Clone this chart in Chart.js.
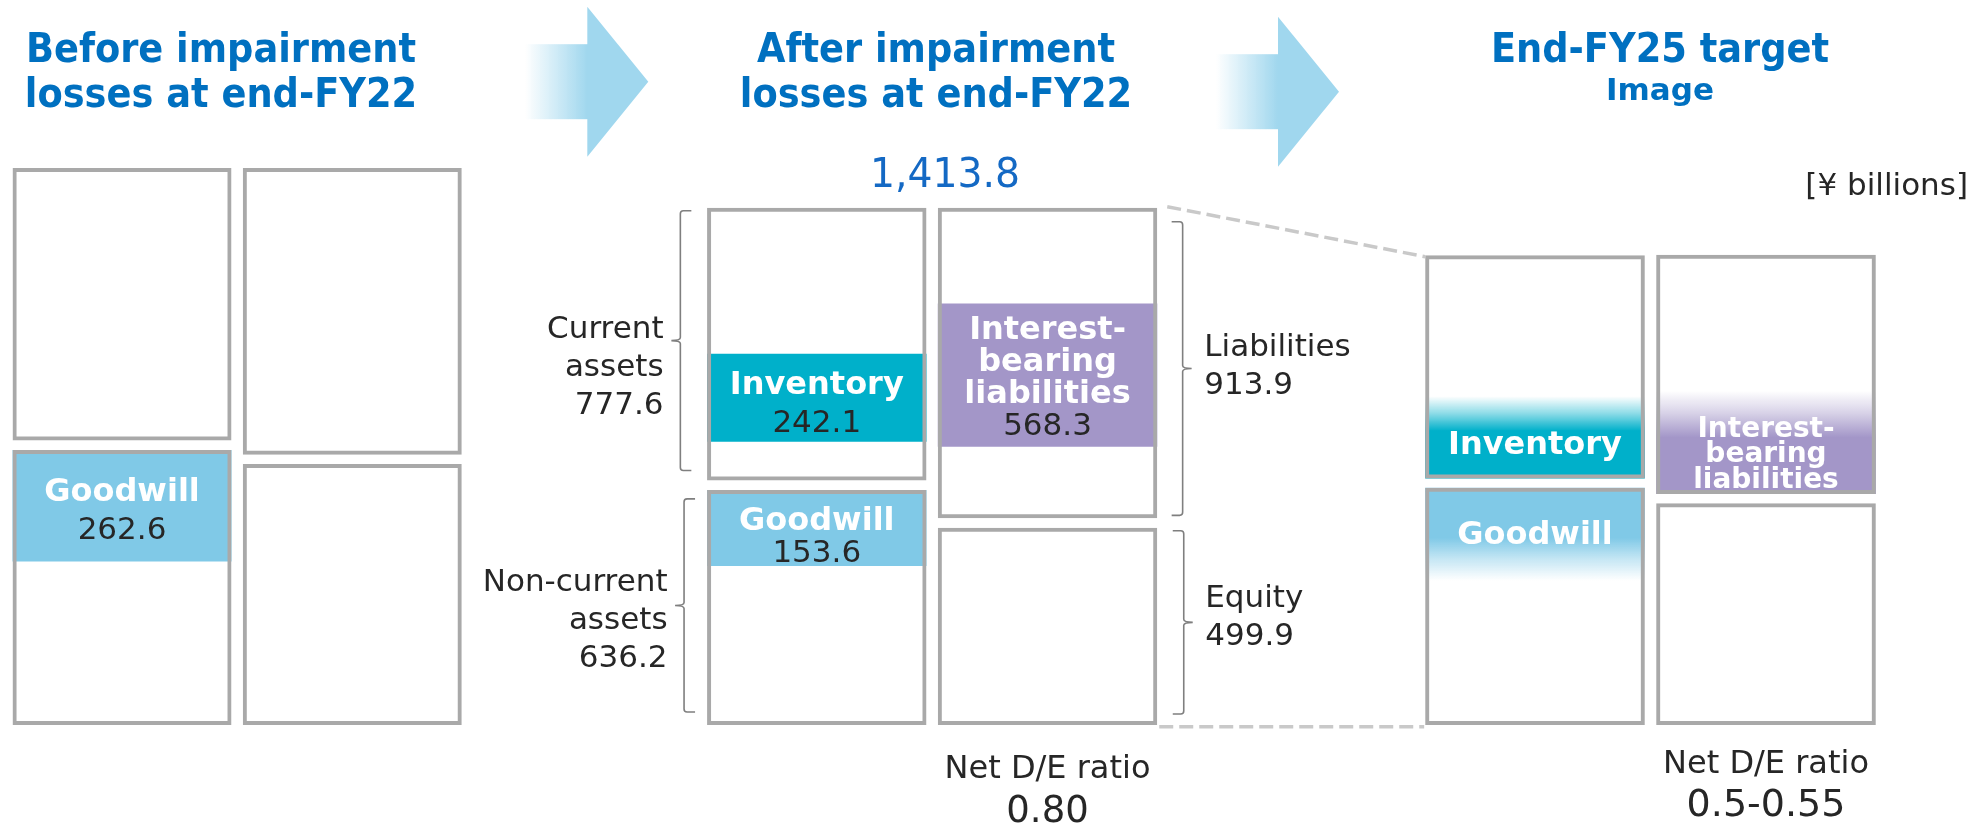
<!DOCTYPE html>
<html>
<head>
<meta charset="utf-8">
<script src="https://cdn.jsdelivr.net/npm/chart.js@4.4.1/dist/chart.umd.min.js"></script>
<style>
    html, body { margin: 0; padding: 0; background: #ffffff; }
    #wrap { position: relative; width: 1972px; height: 825px; }
    #wrap canvas { position: absolute; left: 0; top: 0; }
</style>
</head>
<body>
<div id="wrap">
    <canvas id="beforeChart" width="1972" height="825"></canvas>
    <canvas id="afterChart" width="1972" height="825"></canvas>
    <canvas id="targetChart" width="1972" height="825"></canvas>
</div>
<script>
// The source is a schematic balance sheet, not drawn to scale, so the
// segment heights below are read off the picture (roughly ¥ billions).
const columns = ['Assets', 'Liabilities and equity'];
const stageTitles = [
    ['Before impairment', 'losses at end-FY22'],
    ['After impairment', 'losses at end-FY22'],
    ['End-FY25 target', 'Image'],
];
const nonCurrentAssets = [764, 653, 659];
const currentAssets = [757, 758, 620];
const equity = [725, 548, 616];
const liabilities = [796, 863, 664];
const goodwillBand = [310, 211, 258];
const inventoryBand = [null, 244, 228];
const currentBelowInventory = [null, 108, 0];
const debtBand = [null, 398, 286];
const liabilitiesBelowDebt = [null, 199, 0];

// Figures printed on the chart
const goodwillValues = [262.6, 153.6, null];
const inventoryValues = [null, 242.1, null];
const debtValues = [null, 568.3, null];
const totalAssetsAfter = 1413.8;
const currentAssetsAfter = 777.6;
const nonCurrentAssetsAfter = 636.2;
const liabilitiesAfter = 913.9;
const equityAfter = 499.9;
const netDeRatio = [null, '0.80', '0.5-0.55'];

const FONT = "'DejaVu Sans', Verdana, sans-serif";
const TITLE_BLUE = '#0070c0';
const TOTAL_BLUE = '#1469c4';
const INK = '#262626';
const BOX_GREY = '#a9a9a9';
const BRACKET_GREY = '#7f7f7f';
const DASH_GREY = '#c9c9c9';
const GOODWILL = [128, 201, 231];
const INVENTORY = [0, 176, 202];
const DEBT = [163, 150, 200];
const ARROW = [160, 215, 238];

const GAP = 26;
const Y_MAX = 1600;
const PANEL_PAD = [
    { left: 6.9, right: 1504.6 },
    { left: 701.4, right: 809.1 },
    { left: 1419.5, right: 90.5 },
];

const rgba = (c, a) => `rgba(${c[0]},${c[1]},${c[2]},${a})`;
const fmt = v => v.toLocaleString('en-US', { minimumFractionDigits: 1, maximumFractionDigits: 1 });

// solid band, or a band that fades to white at one end (target image)
function bandFill(color, fade) {
    return (c) => {
        if (!fade || !c.raw) return rgba(color, 1);
        const y = c.chart.scales.y;
        if (!y) return rgba(color, 1);
        const top = y.getPixelForValue(c.raw[1]);
        const bottom = y.getPixelForValue(c.raw[0]);
        if (!isFinite(top) || !isFinite(bottom) || top === bottom) return rgba(color, 1);
        const g = c.chart.ctx.createLinearGradient(0, top, 0, bottom);
        if (fade.at === 'top') {
            g.addColorStop(0, rgba(color, 0));
            g.addColorStop(fade.len * 0.5, rgba(color, 0.45));
            g.addColorStop(fade.len, rgba(color, 1));
            g.addColorStop(1, rgba(color, 1));
        } else {
            g.addColorStop(0, rgba(color, 1));
            g.addColorStop(1 - fade.len, rgba(color, 1));
            g.addColorStop(1 - fade.len * 0.5, rgba(color, 0.45));
            g.addColorStop(1, rgba(color, 0));
        }
        return g;
    };
}

const BOX = { backgroundColor: 'rgba(0,0,0,0)', borderColor: BOX_GREY, borderWidth: 4, order: 1 };
const BAND = { borderWidth: 0, order: 2 };

function stageDatasets(s) {
    const lowA = nonCurrentAssets[s];
    const lowL = equity[s];
    const fadeOn = s === 2;
    const sets = [
        { label: 'Non-current assets / Equity', data: [[0, lowA], [0, lowL]], ...BOX },
        {
            label: 'Current assets / Liabilities',
            data: [[lowA + GAP, lowA + GAP + currentAssets[s]], [lowL + GAP, lowL + GAP + liabilities[s]]],
            ...BOX
        },
        {
            label: 'Goodwill',
            data: [[lowA - goodwillBand[s], lowA], null],
            backgroundColor: bandFill(GOODWILL, fadeOn ? { at: 'bottom', len: 0.46 } : null),
            ...BAND
        },
    ];
    if (inventoryBand[s]) {
        const lo = lowA + GAP + currentBelowInventory[s];
        sets.push({
            label: 'Inventory',
            data: [[lo, lo + inventoryBand[s]], null],
            backgroundColor: bandFill(INVENTORY, fadeOn ? { at: 'top', len: 0.42 } : null),
            ...BAND
        });
    }
    if (debtBand[s]) {
        const lo = lowL + GAP + liabilitiesBelowDebt[s];
        sets.push({
            label: 'Interest-bearing liabilities',
            data: [null, [lo, lo + debtBand[s]]],
            backgroundColor: bandFill(DEBT, fadeOn ? { at: 'top', len: 0.45 } : null),
            ...BAND
        });
    }
    return sets;
}

function text(ctx, str, x, y, o = {}) {
    ctx.save();
    ctx.font = `${o.bold ? 'bold ' : ''}${o.size || 31}px ${FONT}`;
    ctx.fillStyle = o.color || INK;
    ctx.textAlign = o.align || 'center';
    ctx.textBaseline = 'alphabetic';
    ctx.translate(x, y);
    ctx.scale(o.squeeze || 1, 1);
    ctx.fillText(str, 0, 0);
    ctx.restore();
}

function rectOf(chart, label, col) {
    const i = chart.data.datasets.findIndex(d => d.label === label);
    const el = chart.getDatasetMeta(i).data[col];
    return {
        cx: el.x,
        left: el.x - el.width / 2,
        right: el.x + el.width / 2,
        top: Math.min(el.y, el.base),
        bottom: Math.max(el.y, el.base),
    };
}

function title(ctx, s, cx) {
    const [l1, l2] = stageTitles[s];
    text(ctx, l1, cx, 62, { bold: true, size: 40, color: TITLE_BLUE, squeeze: 0.92 });
    if (s === 2) text(ctx, l2, cx, 100, { bold: true, size: 31, color: TITLE_BLUE });
    else text(ctx, l2, cx, 107, { bold: true, size: 40, color: TITLE_BLUE, squeeze: 0.92 });
}

function arrow(ctx, tipX, midY) {
    const baseX = tipX - 61;
    ctx.save();
    const g = ctx.createLinearGradient(baseX - 62, 0, baseX, 0);
    g.addColorStop(0, rgba(ARROW, 0));
    g.addColorStop(1, rgba(ARROW, 1));
    ctx.fillStyle = g;
    ctx.fillRect(baseX - 62, midY - 37.5, 63, 75);
    ctx.fillStyle = rgba(ARROW, 1);
    ctx.beginPath();
    ctx.moveTo(baseX, midY - 75);
    ctx.lineTo(tipX, midY);
    ctx.lineTo(baseX, midY + 75);
    ctx.closePath();
    ctx.fill();
    ctx.restore();
}

// side +1: bracket left of a box (tips point right), -1: right of a box
function bracket(ctx, x, top, bottom, side) {
    const mid = (top + bottom) / 2;
    const d = side;
    ctx.save();
    ctx.strokeStyle = BRACKET_GREY;
    ctx.lineWidth = 1.6;
    ctx.beginPath();
    ctx.moveTo(x + 11 * d, top);
    ctx.lineTo(x + 3 * d, top);
    ctx.quadraticCurveTo(x, top, x, top + 3);
    ctx.lineTo(x, mid - 3);
    ctx.quadraticCurveTo(x, mid, x - 9 * d, mid);
    ctx.quadraticCurveTo(x, mid, x, mid + 3);
    ctx.lineTo(x, bottom - 3);
    ctx.quadraticCurveTo(x, bottom, x + 3 * d, bottom);
    ctx.lineTo(x + 11 * d, bottom);
    ctx.stroke();
    ctx.restore();
    return mid;
}

function sideLabel(ctx, lines, x, firstBaseline, align) {
    lines.forEach((l, i) => text(ctx, l, x, firstBaseline + i * 38, { align }));
}

const beforeLabels = {
    id: 'beforeLabels',
    afterDatasetsDraw(chart) {
        const ctx = chart.ctx;
        title(ctx, 0, 221);
        const gw = rectOf(chart, 'Goodwill', 0);
        text(ctx, 'Goodwill', gw.cx, gw.top + 51, { bold: true, size: 32, color: '#ffffff' });
        text(ctx, fmt(goodwillValues[0]), gw.cx, gw.top + 89);
        arrow(ctx, 648.3, 81.7);
    }
};

const afterLabels = {
    id: 'afterLabels',
    afterDatasetsDraw(chart) {
        const ctx = chart.ctx;
        title(ctx, 1, 936);
        const cur = rectOf(chart, 'Current assets / Liabilities', 0);
        const nonCur = rectOf(chart, 'Non-current assets / Equity', 0);
        const liab = rectOf(chart, 'Current assets / Liabilities', 1);
        const eq = rectOf(chart, 'Non-current assets / Equity', 1);

        text(ctx, fmt(totalAssetsAfter), 945, cur.top - 21, { size: 41, color: TOTAL_BLUE, squeeze: 0.96 });

        let m = bracket(ctx, cur.left - 26.7, cur.top + 3, cur.bottom - 10, 1);
        sideLabel(ctx, ['Current', 'assets', fmt(currentAssetsAfter)], cur.left - 43.5, m - 3, 'right');
        m = bracket(ctx, nonCur.left - 23, nonCur.top + 9, nonCur.bottom - 13, 1);
        sideLabel(ctx, ['Non-current', 'assets', fmt(nonCurrentAssetsAfter)], nonCur.left - 39.5, m - 14, 'right');
        m = bracket(ctx, liab.right + 25.4, liab.top + 14, liab.bottom - 3, -1);
        sideLabel(ctx, ['Liabilities', fmt(liabilitiesAfter)], liab.right + 47, m - 13, 'left');
        m = bracket(ctx, eq.right + 26.5, eq.top + 3, eq.bottom - 11, -1);
        sideLabel(ctx, ['Equity', fmt(equityAfter)], eq.right + 48, m - 15.5, 'left');

        const gw = rectOf(chart, 'Goodwill', 0);
        text(ctx, 'Goodwill', gw.cx, gw.top + 40, { bold: true, size: 32, color: '#ffffff' });
        text(ctx, fmt(goodwillValues[1]), gw.cx, gw.top + 71.7);

        const inv = rectOf(chart, 'Inventory', 0);
        text(ctx, 'Inventory', inv.cx, inv.top + 40, { bold: true, size: 32, color: '#ffffff' });
        text(ctx, fmt(inventoryValues[1]), inv.cx, inv.top + 78);

        const debt = rectOf(chart, 'Interest-bearing liabilities', 1);
        ['Interest-', 'bearing', 'liabilities'].forEach((l, i) =>
            text(ctx, l, debt.cx, debt.top + 35.7 + i * 32, { bold: true, size: 32, color: '#ffffff' }));
        text(ctx, fmt(debtValues[1]), debt.cx, debt.top + 131.7);

        text(ctx, 'Net D/E ratio', liab.cx, eq.bottom + 53, { size: 32 });
        text(ctx, netDeRatio[1], liab.cx, eq.bottom + 96.7, { size: 37 });

        arrow(ctx, 1339, 91.7);
    }
};

let afterChartRef = null;

const targetLabels = {
    id: 'targetLabels',
    afterDatasetsDraw(chart) {
        const ctx = chart.ctx;
        title(ctx, 2, 1660);
        text(ctx, '[¥ billions]', 1968, 195, { align: 'right' });

        const cur = rectOf(chart, 'Current assets / Liabilities', 0);
        const eq = rectOf(chart, 'Non-current assets / Equity', 1);

        const inv = rectOf(chart, 'Inventory', 0);
        text(ctx, 'Inventory', inv.cx, inv.top + 58, { bold: true, size: 32, color: '#ffffff' });
        const gw = rectOf(chart, 'Goodwill', 0);
        text(ctx, 'Goodwill', gw.cx, gw.top + 56, { bold: true, size: 32, color: '#ffffff' });

        const debt = rectOf(chart, 'Interest-bearing liabilities', 1);
        ctx.save();
        ctx.beginPath();
        ctx.rect(debt.left, debt.top, debt.right - debt.left, debt.bottom - debt.top - 4);
        ctx.clip();
        ['Interest-', 'bearing', 'liabilities'].forEach((l, i) =>
            text(ctx, l, debt.cx, debt.top + 46 + i * 25.5, { bold: true, size: 28, color: '#ffffff' }));
        ctx.restore();

        text(ctx, 'Net D/E ratio', eq.cx, eq.bottom + 48, { size: 32 });
        text(ctx, netDeRatio[2], eq.cx, eq.bottom + 91, { size: 38 });

        // zoom lines linking the after-impairment balance sheet to the target image
        if (afterChartRef) {
            const liab = rectOf(afterChartRef, 'Current assets / Liabilities', 1);
            const afterEq = rectOf(afterChartRef, 'Non-current assets / Equity', 1);
            ctx.save();
            ctx.strokeStyle = DASH_GREY;
            ctx.lineWidth = 3.5;
            ctx.setLineDash([14, 6]);
            ctx.beginPath();
            ctx.moveTo(liab.right + 10, liab.top - 1);
            ctx.lineTo(cur.left, cur.top + 1.5);
            ctx.moveTo(afterEq.right + 2, afterEq.bottom + 1.7);
            ctx.lineTo(cur.left - 1, afterEq.bottom + 1.7);
            ctx.stroke();
            ctx.restore();
        }
    }
};

function makeChart(id, s, plugin) {
    return new Chart(document.getElementById(id), {
        type: 'bar',
        data: { labels: columns, datasets: stageDatasets(s) },
        options: {
            responsive: false,
            animation: false,
            events: [],
            layout: { padding: { top: 149, bottom: 100, left: PANEL_PAD[s].left, right: PANEL_PAD[s].right } },
            plugins: { legend: { display: false }, tooltip: { enabled: false } },
            datasets: {
                bar: { grouped: false, barPercentage: 0.951, categoryPercentage: 1, borderSkipped: false, inflateAmount: 0 }
            },
            scales: {
                x: { display: false },
                y: { display: false, min: 0, max: Y_MAX },
            },
        },
        plugins: [plugin]
    });
}

makeChart('beforeChart', 0, beforeLabels);
afterChartRef = makeChart('afterChart', 1, afterLabels);
makeChart('targetChart', 2, targetLabels);
</script>
</body>
</html>
